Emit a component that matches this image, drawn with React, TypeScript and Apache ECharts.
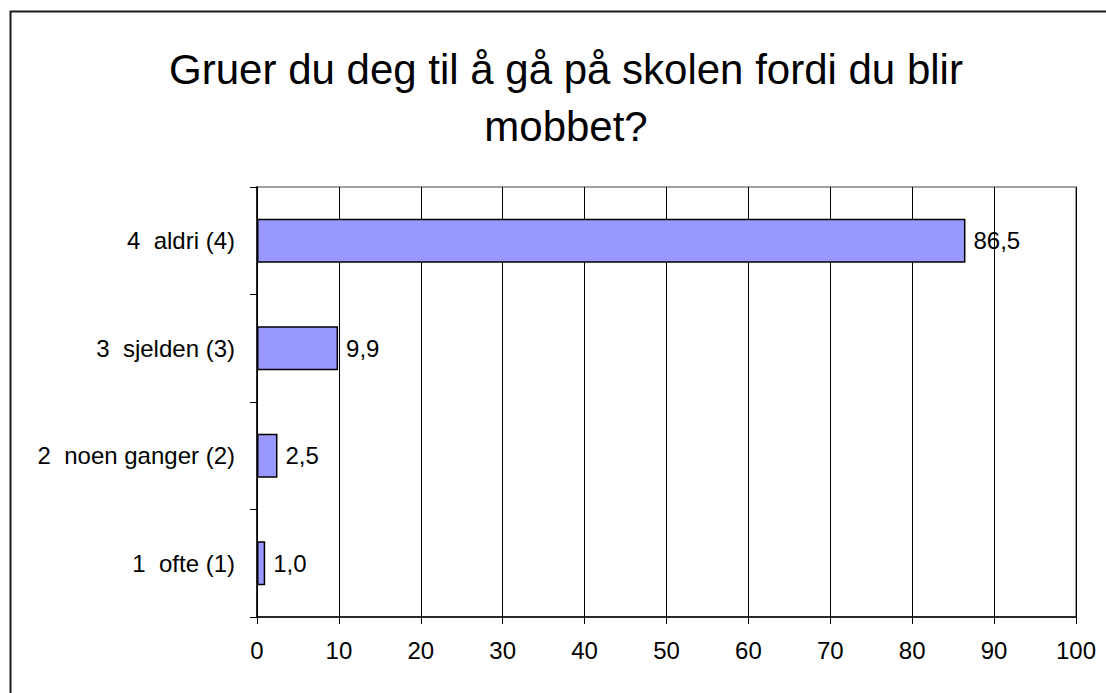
import React, { useEffect, useRef } from "react";
import * as echarts from "echarts";

const categories = ["1  ofte (1)", "2  noen ganger (2)", "3  sjelden (3)", "4  aldri (4)"];
const values = [1.0, 2.5, 9.9, 86.5];
const titleText = "Gruer du deg til å gå på skolen fordi du blir\nmobbet?";

export default function App() {
  const ref = useRef<HTMLDivElement>(null);
  useEffect(() => {
    document.body.style.margin = "0";
    const chart = echarts.init(ref.current!, null, { renderer: "svg" });
    const font = "'Liberation Sans', Arial, sans-serif";
    chart.setOption({
      animation: false,
      backgroundColor: "#ffffff",
      title: {
        text: titleText,
        left: 561,
        textAlign: "center",
        top: 36,
        textStyle: {
          fontSize: 42,
          fontWeight: "normal",
          fontFamily: font,
          color: "#000",
          lineHeight: 57,
        },
      },
      graphic: [
        {
          type: "rect",
          shape: { x: 10.5, y: 11.5, width: 1200, height: 800 },
          style: { fill: "none", stroke: "#1a1a1a", lineWidth: 2 },
          silent: true,
          z: 100,
        },
      ],
      grid: {
        left: 257,
        top: 187,
        right: 30,
        bottom: 76,
        show: true,
        borderColor: "#a0a0a0",
        borderWidth: 2,
        containLabel: false,
      },
      xAxis: {
        type: "value",
        min: 0,
        max: 100,
        interval: 10,
        axisLine: { show: true, lineStyle: { color: "#000", width: 1.5 } },
        axisTick: { show: true, length: 7, lineStyle: { color: "#000" } },
        splitLine: { show: true, lineStyle: { color: "#000", width: 1 } },
        axisLabel: { fontSize: 24, fontFamily: font, color: "#000", margin: 21 },
      },
      yAxis: {
        type: "category",
        data: categories,
        axisLine: { show: true, lineStyle: { color: "#000", width: 1.5 } },
        axisTick: { show: true, length: 7, lineStyle: { color: "#000" } },
        axisLabel: { fontSize: 24, fontFamily: font, color: "#000", margin: 22 },
        splitLine: { show: false },
      },
      series: [
        {
          type: "bar",
          data: values,
          barCategoryGap: "59%",
          itemStyle: { color: "#9999ff", borderColor: "#000", borderWidth: 1.5 },
          label: {
            show: true,
            position: "right",
            distance: 8,
            fontSize: 24,
            fontFamily: font,
            color: "#000",
            formatter: (p: any) => Number(p.value).toFixed(1).replace(".", ","),
          },
        },
      ],
    });
    return () => chart.dispose();
  }, []);
  return <div ref={ref} style={{ width: 1106, height: 693 }} />;
}
